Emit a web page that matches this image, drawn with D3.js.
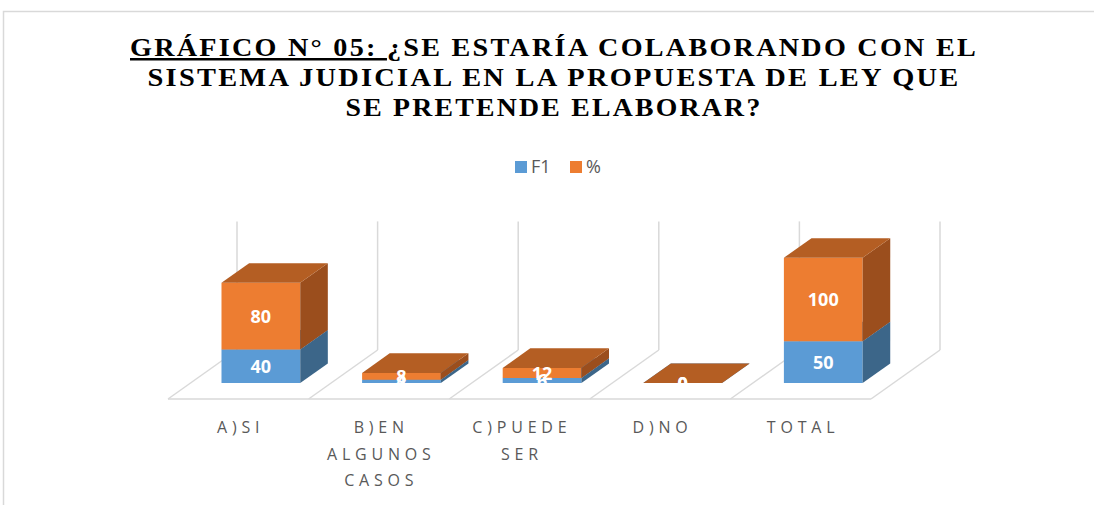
<!DOCTYPE html>
<html>
<head>
<meta charset="utf-8">
<script src="https://cdn.jsdelivr.net/npm/d3@7"></script>
<style>
  html, body { margin: 0; padding: 0; background: #fff; }
  svg { display: block; }
</style>
</head>
<body>
<svg id="canvas" width="1094" height="505"></svg>
<script>
// data
let categories = ['A)SI', 'B)EN ALGUNOS CASOS', 'C)PUEDE SER', 'D)NO', 'TOTAL']
let categoryLines = [['A)SI'], ['B)EN', 'ALGUNOS', 'CASOS'], ['C)PUEDE', 'SER'], ['D)NO'], ['TOTAL']]
let f1Values = [40, 4, 6, 0, 50]
let pctValues = [80, 8, 12, 0, 100]
let seriesNames = ['F1', '%']
let titleLines = [
  ['GRÁFICO N° 05: ', '¿SE ESTARÍA COLABORANDO CON EL'],
  ['', 'SISTEMA JUDICIAL EN LA PROPUESTA DE LEY QUE'],
  ['', 'SE PRETENDE ELABORAR?']
]

let colors = {
  F1: { front: '#5b9bd5', side: '#3c6689', top: '#4a80b3' },
  '%': { front: '#ed7d31', side: '#9b4e1d', top: '#b45e23' }
}

let canvas = d3.select('#canvas')

// chart frame
canvas.append('path')
  .attr('d', 'M3.5,505 L3.5,11.5 L1094,11.5')
  .attr('fill', 'none')
  .attr('stroke', '#d9d9d9')
  .attr('stroke-width', 1.5)

// title
let titleWidths = [848, 813, 417]
let title = canvas.append('g')
titleLines.forEach((ln, i) => {
  let t = title.append('text')
    .attr('x', 554)
    .attr('y', 56 + i * 30)
    .attr('text-anchor', 'middle')
    .attr('font-family', 'Liberation Serif, Times New Roman, serif')
    .attr('font-weight', 'bold')
    .attr('font-size', 25)
    .attr('letter-spacing', 2)
    .attr('fill', '#000')
    .attr('textLength', titleWidths[i])
    .attr('lengthAdjust', 'spacingAndGlyphs')
  if (ln[0]) t.append('tspan').attr('text-decoration', 'underline').text(ln[0])
  t.append('tspan').text(ln[1])
})

// legend
let legend = canvas.append('g').attr('font-family', 'Open Sans, sans-serif')
let legendX = [515, 570]
seriesNames.forEach((s, i) => {
  legend.append('rect')
    .attr('x', legendX[i]).attr('y', 161)
    .attr('width', 12).attr('height', 12)
    .attr('fill', colors[s].front)
  legend.append('text')
    .attr('x', legendX[i] + 16).attr('y', 173)
    .attr('font-size', 18)
    .attr('fill', '#595959')
    .text(s)
})

// 3d projection (oblique)
let DX = 69, DY = 49
let z0 = 0.327, z1 = 0.727

let x = d3.scaleBand()
  .domain(categories)
  .range([168, 871])
  .paddingInner(0.44)
  .paddingOuter(0.22)

let y = d3.scaleLinear()
  .domain([0, 154])
  .range([399, 399 - 154 * 0.835])

let proj = (px, v, z) => [px + z * DX, y(v) - z * DY]
let line = d3.line()
let step = x.step()
let left = x.range()[0]

// floor and back wall lines
let grid = canvas.append('g')
  .attr('stroke', '#d9d9d9')
  .attr('stroke-width', 1.5)
  .attr('fill', 'none')

let floorFront = [proj(left, 0, 0), proj(left + step * categories.length, 0, 0)]
grid.append('path').attr('d', line(floorFront))
d3.range(categories.length + 1).forEach(k => {
  let px = left + k * step
  grid.append('path').attr('d', line([proj(px, 0, 0), proj(px, 0, 1)]))
  grid.append('path').attr('d', line([proj(px, 0, 1), proj(px, y.domain()[1], 1)]))
})

// stacked values
let table = categories.map((c, i) => ({ cat: c, F1: f1Values[i], '%': pctValues[i] }))
let stack = d3.stack().keys(seriesNames)(table)

let bars = canvas.append('g')
categories.forEach((c, i) => {
  let bx0 = x(c), bx1 = x(c) + x.bandwidth()
  stack.forEach(layer => {
    let v0 = layer[i][0], v1 = layer[i][1]
    let col = colors[layer.key]
    let front = [proj(bx0, v0, z0), proj(bx1, v0, z0), proj(bx1, v1, z0), proj(bx0, v1, z0)]
    let side = [proj(bx1, v0, z0), proj(bx1, v0, z1), proj(bx1, v1, z1), proj(bx1, v1, z0)]
    let top = [proj(bx0, v1, z0), proj(bx1, v1, z0), proj(bx1, v1, z1), proj(bx0, v1, z1)]
    bars.append('path').attr('d', line(front) + 'Z').attr('fill', col.front)
    bars.append('path').attr('d', line(side) + 'Z').attr('fill', col.side)
    bars.append('path').attr('d', line(top) + 'Z').attr('fill', col.top)
  })
})

// data labels
let labels = canvas.append('g')
  .attr('font-family', 'Open Sans, sans-serif')
  .attr('font-weight', 'bold')
  .attr('font-size', 18)
  .attr('fill', '#fff')
  .attr('text-anchor', 'middle')
stack.forEach(layer => {
  layer.forEach((d, i) => {
    let c = categories[i]
    let p = proj(x(c) + x.bandwidth() / 2, (d[0] + d[1]) / 2, z0)
    labels.append('text')
      .attr('x', p[0])
      .attr('y', p[1] + 7)
      .text(d[1] - d[0])
  })
})

// category labels
let ls = 4.8
let catG = canvas.append('g')
  .attr('font-family', 'Open Sans, sans-serif')
  .attr('font-size', 16)
  .attr('fill', '#595959')
  .attr('text-anchor', 'middle')
  .attr('letter-spacing', ls)
categories.forEach((c, i) => {
  let cx = left + (i + 0.5) * step + ls / 2
  categoryLines[i].forEach((t, j) => {
    catG.append('text')
      .attr('x', cx)
      .attr('y', 433 + j * 26.5)
      .text(t)
  })
})
</script>
</body>
</html>
